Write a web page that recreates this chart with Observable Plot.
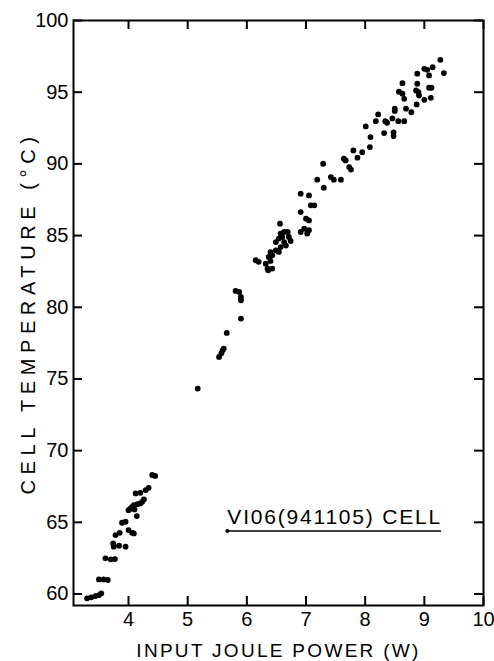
<!DOCTYPE html>
<html>
<head>
<meta charset="utf-8">
<script src="https://cdn.jsdelivr.net/npm/d3@7"></script>
<script src="https://cdn.jsdelivr.net/npm/@observablehq/plot@0.6"></script>
<style>
  html, body { margin: 0; padding: 0; background: #fff; }
  #chart svg { display: block; }
  text[aria-label="x-title"], [aria-label="x-title"] text { letter-spacing: 2.3px; }
  text[aria-label="y-title"], [aria-label="y-title"] text { letter-spacing: 5.6px; }
  text[aria-label="cell-label"], [aria-label="cell-label"] text { letter-spacing: 1.8px; }
</style>
</head>
<body>
<div id="chart"></div>
<script>
// Input Joule power (W)
const power = [
  3.30, 3.37, 3.44, 3.50, 3.54, 3.50, 3.58, 3.65, 3.61, 3.70, 3.77,
  3.74, 3.75, 3.84, 3.95, 3.78, 3.85, 4.00, 4.06, 4.09, 3.89, 3.95,
  4.00, 4.06, 4.09, 4.15, 4.20, 4.23, 4.26, 4.14, 4.12, 4.20, 4.29,
  4.34, 4.45, 4.40, 4.03, 4.10,
  5.17, 5.53, 5.57, 5.59, 5.61, 5.66, 5.90, 5.81, 5.87, 5.90, 5.90,
  6.15, 6.20,
  6.32, 6.35, 6.40, 6.43, 6.36, 6.37, 6.40, 6.43, 6.49, 6.49, 6.54,
  6.57, 6.63, 6.69, 6.71, 6.74, 6.63, 6.57, 6.54, 6.56, 6.60, 6.66,
  6.91, 6.97, 7.02, 7.05, 6.91, 7.00, 7.05, 6.91, 7.05, 7.08, 7.14,
  7.19, 7.30, 7.29, 7.42, 7.47, 7.59, 7.64, 7.67, 7.73, 7.76, 7.80,
  7.87, 7.95, 8.08, 8.09, 8.01, 8.18, 8.22, 8.32, 8.34, 8.37, 8.46,
  8.56, 8.66, 8.48, 8.48, 8.50, 8.50, 8.69, 8.78, 8.87, 9.00, 9.11,
  8.57, 8.63, 8.66, 8.63, 8.88, 8.86, 8.90, 8.91, 9.08, 9.12, 8.88,
  9.00, 9.05, 9.14, 9.08, 9.27, 9.33
];
// Cell temperature (°C)
const temp = [
  59.70, 59.77, 59.86, 59.93, 60.05, 61.02, 61.02, 60.98, 62.49, 62.42, 62.44,
  63.53, 63.30, 63.37, 63.30, 64.11, 64.27, 64.46, 64.27, 64.23, 64.97, 65.04,
  65.85, 66.08, 66.20, 66.27, 66.32, 66.43, 66.60, 65.44, 67.02, 67.06, 67.25,
  67.41, 68.24, 68.30, 65.95, 65.90,
  74.33, 76.54, 76.80, 77.00, 77.12, 78.21, 79.21, 81.14, 81.07, 80.72, 80.49,
  83.28, 83.17,
  83.04, 82.70, 83.23, 82.70, 82.58, 83.51, 83.85, 83.62, 83.97, 84.55, 84.79,
  85.14, 85.25, 85.25, 84.90, 84.62, 84.55, 84.20, 83.86, 85.83, 84.90, 84.30,
  85.25, 85.48, 85.14, 85.37, 86.64, 86.18, 86.06, 87.92, 87.80, 87.11, 87.11,
  88.90, 88.34, 90.01, 89.08, 88.90, 88.90, 90.36, 90.24, 89.78, 89.60, 90.94,
  90.43, 90.82, 91.17, 91.87, 92.61, 92.98, 93.45, 92.15, 92.98, 92.87, 93.17,
  92.98, 92.98, 92.20, 91.94, 93.85, 93.69, 93.85, 93.60, 94.15, 94.47, 94.61,
  95.03, 94.89, 94.54, 95.63, 95.59, 95.12, 95.00, 94.77, 95.31, 95.31, 96.29,
  96.63, 96.56, 96.74, 96.17, 97.26, 96.33
];
const xTicks = [4, 5, 6, 7, 8, 9, 10];
const yTicks = [60, 65, 70, 75, 80, 85, 90, 95, 100];
const xDomain = [3.07, 10];
const yDomain = [59.2, 100];
const xTitle = "INPUT JOULE POWER (W)";
const yTitle = "CELL TEMPERATURE (°C)";
const cellLabel = "VI06(941105) CELL";
// label line (data coordinates)
const labelLineX = [5.67, 9.29];
const labelLineY = 64.39;
const labelTextY = 65.37;

const W = 494, H = 661;
const M = {left: 73, right: 11, top: 20, bottom: 56};
const frameW = W - M.left - M.right;
const frameH = H - M.top - M.bottom;
const tickLen = 9;
// tick length converted to data units
const xTickLen = tickLen * (xDomain[1] - xDomain[0]) / frameW;
const yTickLen = tickLen * (yDomain[1] - yDomain[0]) / frameH;
const data = power.map((p, i) => ({power: p, temp: temp[i]}));
const tickStyle = {stroke: "black", strokeWidth: 2};

const chart = Plot.plot({
  width: W,
  height: H,
  marginLeft: M.left,
  marginRight: M.right,
  marginTop: M.top,
  marginBottom: M.bottom,
  x: {domain: xDomain},
  y: {domain: yDomain},
  style: {fontFamily: "'Liberation Sans', Arial, sans-serif", color: "black", background: "white"},
  marks: [
    Plot.frame({stroke: "black", strokeWidth: 2, fill: "none"}),
    // inward ticks on all four sides
    Plot.ruleX(xTicks, {x: d => d, y1: () => yDomain[0], y2: () => yDomain[0] + yTickLen, ...tickStyle}),
    Plot.ruleX(xTicks, {x: d => d, y1: () => yDomain[1], y2: () => yDomain[1] - yTickLen, ...tickStyle}),
    Plot.ruleY(yTicks, {y: d => d, x1: () => xDomain[0], x2: () => xDomain[0] + xTickLen, ...tickStyle}),
    Plot.ruleY(yTicks, {y: d => d, x1: () => xDomain[1], x2: () => xDomain[1] - xTickLen, ...tickStyle}),
    // tick labels
    Plot.axisX(xTicks, {anchor: "bottom", tickSize: 0, tickPadding: 6, fontSize: 20, label: null}),
    Plot.axisY(yTicks, {anchor: "left", tickSize: 0, tickPadding: 5, fontSize: 20, label: null}),
    // titles
    Plot.text([xTitle], {frameAnchor: "bottom", dy: 51, fontSize: 19, fill: "black", textAnchor: "middle", lineAnchor: "bottom", text: d => d, ariaLabel: () => "x-title"}),
    Plot.text([yTitle], {frameAnchor: "left", dx: -45, rotate: -90, fontSize: 20, fill: "black", textAnchor: "middle", lineAnchor: "middle", text: d => d, ariaLabel: () => "y-title"}),
    // data
    Plot.dot(data, {x: "power", y: "temp", r: 2.9, fill: "black", stroke: null}),
    // sample label
    Plot.ruleY([labelLineY], {x1: labelLineX[0], x2: labelLineX[1], stroke: "black", strokeWidth: 1.5}),
    Plot.dot([labelLineX[0]], {x: d => d, y: () => labelLineY, r: 2, fill: "black"}),
    Plot.text([cellLabel], {x: () => labelLineX[0], y: () => labelTextY, textAnchor: "start", fontSize: 21, fill: "black", text: d => d, ariaLabel: () => "cell-label"})
  ]
});
document.getElementById("chart").appendChild(chart);
</script>
</body>
</html>
